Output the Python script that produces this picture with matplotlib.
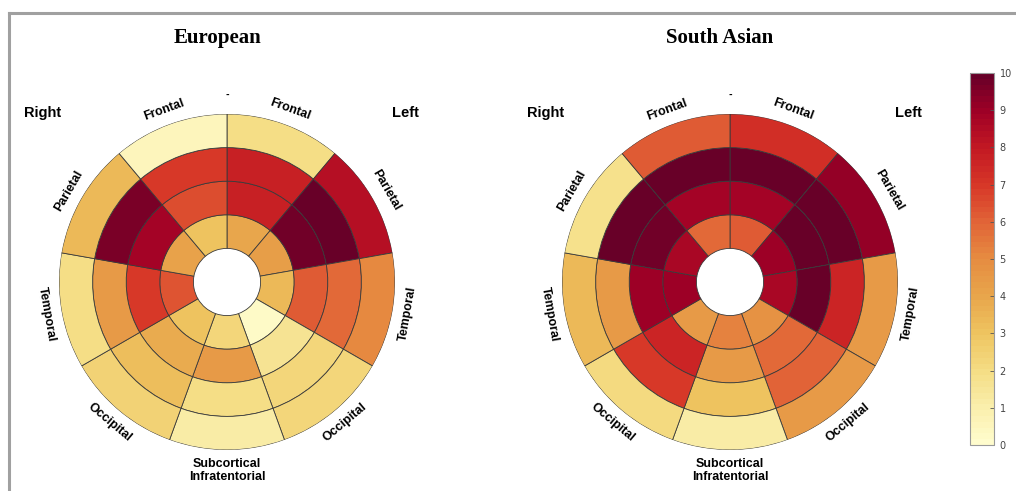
import matplotlib
matplotlib.use("Agg")
import matplotlib.pyplot as plt
import numpy as np
from matplotlib.colors import LinearSegmentedColormap
from matplotlib.lines import Line2D

# sectors, clockwise from the top (angles in degrees, start of each 40 deg wedge)
sector_names = ["Frontal", "Parietal", "Temporal", "Occipital",
                "Subcortical\nInfratentorial", "Occipital", "Temporal", "Parietal", "Frontal"]
sector_start = [50, 10, -30, -70, -110, -150, 170, 130, 90]

# values per sector, rings listed inner -> outer
european = [
    [4.0, 7.8, 7.8, 2.0],   # left frontal
    [4.3, 9.8, 10.0, 8.4],  # left parietal
    [3.3, 6.2, 5.9, 5.0],   # left temporal
    [0.2, 1.6, 2.3, 2.3],   # left occipital
    [2.2, 4.4, 2.0, 1.1],   # subcortical
    [3.0, 3.8, 3.2, 2.4],   # right occipital
    [6.4, 7.0, 4.4, 2.0],   # right temporal
    [4.1, 8.8, 9.6, 3.4],   # right parietal
    [3.0, 6.5, 7.0, 0.6],   # right frontal
]
south_asian = [
    [6.1, 8.8, 10.0, 7.2],
    [9.0, 10.0, 10.0, 9.2],
    [8.6, 9.9, 7.6, 4.5],
    [4.8, 5.8, 6.0, 4.5],
    [5.3, 4.4, 3.0, 1.1],
    [4.5, 7.5, 6.9, 2.1],
    [9.0, 9.0, 4.5, 3.4],
    [8.6, 9.8, 10.0, 1.8],
    [5.8, 8.8, 10.0, 6.2],
]
titles = ["European", "South Asian"]
cbar_ticks = list(range(0, 11))

cmap = LinearSegmentedColormap.from_list("heat", [
    "#fffccd", "#faeeaa", "#f4dc82", "#eec35f", "#e8a54b", "#e68c41",
    "#e16437", "#d73728", "#c31923", "#a00026", "#680028"], N=64)
norm = plt.Normalize(0, 10)

fig = plt.figure(figsize=(10.16, 4.91), dpi=100)
W, H = 1016, 491

centers = [(227, 282), (730, 282)]
R = 168  # px for radius 5


def draw_bullseye(cx, cy, data, title):
    ax = fig.add_axes([(cx - R) / W, (H - cy - R) / H, 2 * R / W, 2 * R / H], projection="polar")
    for start, vals in zip(sector_start, data):
        for ring, v in enumerate(vals):
            ax.bar(np.deg2rad(start), 1, width=np.deg2rad(40), bottom=ring + 1,
                   align="edge", color=cmap(norm(v)), edgecolor="#3a3a3a", linewidth=0.6)
    ax.set_ylim(0, 5)
    ax.set_axis_off()

    for start, name in zip(sector_start, sector_names):
        mid = start + 20
        rad = np.deg2rad(mid)
        if np.sin(rad) > 0:
            rot = mid - 90
        else:
            rot = mid + 90
        r = 5.45 if "\n" not in name else 5.62
        ax.text(rad, r, name, rotation=rot, rotation_mode="anchor",
                ha="center", va="center", fontsize=9, fontweight="bold",
                family="Liberation Sans", clip_on=False,
                linespacing=1.2 if "\n" not in name else 1.1)
    ax.text(np.deg2rad(90), 5.55, "-", ha="center", va="center", fontsize=6,
            fontweight="bold", clip_on=False)

    fig.text((cx - 184) / W, 1 - 113 / H, "Right", ha="center", va="center",
             fontsize=10.5, fontweight="bold", family="Liberation Sans")
    fig.text((cx + 178) / W, 1 - 113 / H, "Left", ha="center", va="center",
             fontsize=10.5, fontweight="bold", family="Liberation Sans")
    fig.text((cx - 10) / W, 1 - 38 / H, title, ha="center", va="center",
             fontsize=15, fontweight="bold", family="Liberation Serif")


for (cx, cy), data, title in zip(centers, [european, south_asian], titles):
    draw_bullseye(cx, cy, data, title)

# colorbar
cax = fig.add_axes([970 / W, (H - 445) / H, 24 / W, 372 / H])
sm = plt.cm.ScalarMappable(cmap=cmap, norm=norm)
cb = fig.colorbar(sm, cax=cax, ticks=cbar_ticks)
cb.outline.set_edgecolor("#9a9a9a")
cb.outline.set_linewidth(0.8)
cax.tick_params(direction="in", length=3, width=0.6, color="#555555",
                labelsize=7, labelcolor="#444444", pad=4)

# gray frame lines (top and left)
fig.add_artist(Line2D([9 / W, 1.0], [1 - 13 / H, 1 - 13 / H], color="#a0a0a0", linewidth=2.2))
fig.add_artist(Line2D([9 / W, 9 / W], [0, 1 - 13 / H], color="#a0a0a0", linewidth=2.2))

fig.savefig("out.png", dpi=100)
